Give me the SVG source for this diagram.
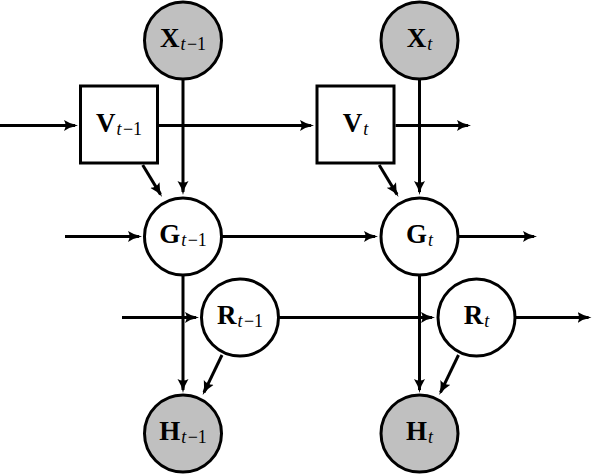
<svg xmlns="http://www.w3.org/2000/svg" width="592" height="474" viewBox="0 0 592 474">
<style>
.n{stroke:#000;stroke-width:3}
.obs{fill:#c0c0c0}
.hid{fill:#fff}
.c{fill:none;stroke:#000;stroke-width:3;marker-end:url(#ah)}
text{font-family:"Liberation Serif","Times New Roman",serif;fill:#000;text-anchor:middle}
.b{font-weight:bold;font-size:27px}
.i{font-style:italic;font-size:18px}
.r{font-size:18px}
</style>
<defs>
<marker id="ah" markerUnits="userSpaceOnUse" viewBox="0 0 14 12" refX="11" refY="6" markerWidth="14" markerHeight="12" orient="auto">
<path d="M0,0.5 Q6,4.5 14,6 Q6,7.5 0,11.5 Q3,6 0,0.5 z" fill="#000"/>
</marker>
</defs>
<rect width="592" height="474" fill="#fff"/>
<g id="connectors">
<path class="c" d="M0,125.5 H75"/>
<path class="c" d="M159,125.5 H311"/>
<path class="c" d="M395.5,125.5 H468"/>
<path class="c" d="M183,80 V192"/>
<path class="c" d="M419.5,80 V192"/>
<path class="c" d="M142.7,165 L160.5,194.4"/>
<path class="c" d="M379.2,165 L397,194.4"/>
<path class="c" d="M65,236.5 H139"/>
<path class="c" d="M222,236.5 H375"/>
<path class="c" d="M458.5,236.5 H534"/>
<path class="c" d="M122,317.5 H196"/>
<path class="c" d="M279,317.5 H432"/>
<path class="c" d="M515.5,317.5 H588.5"/>
<path class="c" d="M183,276 V390"/>
<path class="c" d="M419.5,276 V390"/>
<path class="c" d="M222,355 L204,392.3"/>
<path class="c" d="M458.5,355 L440.5,392.3"/>
</g>
<g id="X_tm1"><circle class="n obs" cx="183" cy="40.5" r="38.5"/><text x="183" y="47"><tspan class="b">X</tspan><tspan class="i" dy="3" dx="1">t</tspan><tspan class="r" dx="1.5">−1</tspan></text></g>
<g id="X_t"><circle class="n obs" cx="419.5" cy="40.5" r="38.5"/><text x="419.5" y="47"><tspan class="b">X</tspan><tspan class="i" dy="3" dx="1">t</tspan></text></g>
<g id="V_tm1"><rect class="n hid" x="80.5" y="86" width="77" height="77"/><text x="119" y="132"><tspan class="b">V</tspan><tspan class="i" dy="3" dx="1">t</tspan><tspan class="r" dx="1.5">−1</tspan></text></g>
<g id="V_t"><rect class="n hid" x="317" y="86" width="77" height="77"/><text x="355.5" y="132"><tspan class="b">V</tspan><tspan class="i" dy="3" dx="1">t</tspan></text></g>
<g id="G_tm1"><circle class="n hid" cx="183" cy="236.5" r="38.5"/><text x="183" y="243"><tspan class="b">G</tspan><tspan class="i" dy="3" dx="1">t</tspan><tspan class="r" dx="1.5">−1</tspan></text></g>
<g id="G_t"><circle class="n hid" cx="419.5" cy="236.5" r="38.5"/><text x="419.5" y="243"><tspan class="b">G</tspan><tspan class="i" dy="3" dx="1">t</tspan></text></g>
<g id="R_tm1"><circle class="n hid" cx="240" cy="317.5" r="38.5"/><text x="240" y="324"><tspan class="b">R</tspan><tspan class="i" dy="3" dx="1">t</tspan><tspan class="r" dx="1.5">−1</tspan></text></g>
<g id="R_t"><circle class="n hid" cx="476.5" cy="317.5" r="38.5"/><text x="476.5" y="324"><tspan class="b">R</tspan><tspan class="i" dy="3" dx="1">t</tspan></text></g>
<g id="H_tm1"><circle class="n obs" cx="183" cy="433.5" r="38.5"/><text x="183" y="440"><tspan class="b">H</tspan><tspan class="i" dy="3" dx="1">t</tspan><tspan class="r" dx="1.5">−1</tspan></text></g>
<g id="H_t"><circle class="n obs" cx="419.5" cy="433.5" r="38.5"/><text x="419.5" y="440"><tspan class="b">H</tspan><tspan class="i" dy="3" dx="1">t</tspan></text></g>
</svg>
